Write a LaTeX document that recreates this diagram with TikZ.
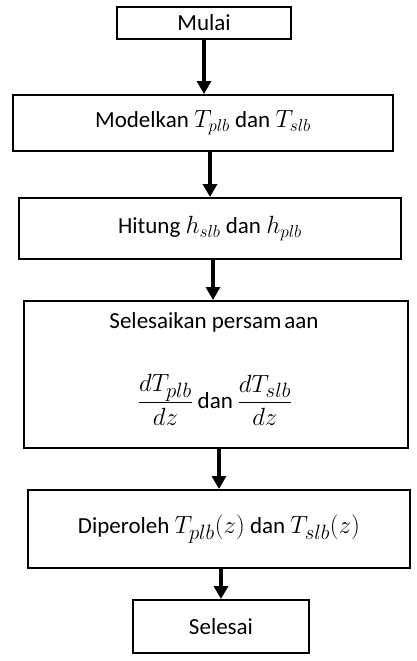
\documentclass[tikz,border=0pt]{standalone}
\usepackage{fontspec}
\setmainfont{Carlito}
\usetikzlibrary{arrows.meta}
\newcommand\bigmath[1]{{\fontsize{29}{32}\selectfont$#1$}}
\begin{document}
\begin{tikzpicture}[x=1pt,y=-1pt,
  box/.style={draw, line width=2pt, inner sep=0pt, font=\fontsize{23}{27}\selectfont},
  txt/.style={inner sep=0pt, font=\fontsize{23}{27}\selectfont},
  arr/.style={line width=3.6pt, -{Triangle[width=14pt,length=13pt]}}]
\useasboundingbox (0,0) rectangle (416,661);
\node[box, minimum width=174pt, minimum height=32pt] (b1) at (204,23) {Mulai};
\node[box, minimum width=380pt, minimum height=56pt] (b2) at (203,123) {Modelkan $T_{plb}$ dan $T_{slb}$};
\node[box, minimum width=382pt, minimum height=61pt] (b3) at (210,228.5) {Hitung {\fontsize{25}{28}\selectfont$h_{slb}$} dan {\fontsize{25}{28}\selectfont$h_{plb}$}};
\node[box, minimum width=384pt, minimum height=147pt] (b4) at (216,374.5) {};
\node[txt] (t4a) at (214,322) {Selesaikan persam\hspace{3pt}aan};
\node[txt] (t4b) at (215,400) {\fontsize{28}{32}\selectfont$\displaystyle\frac{dT_{plb}}{dz}$\,{\fontsize{23}{27}\selectfont dan}\,$\displaystyle\frac{dT_{slb}}{dz}$};
\node[box, minimum width=382pt, minimum height=78pt] (b5) at (219,529) {Diperoleh \bigmath{T_{plb}(z)} dan \bigmath{T_{slb}(z)}};
\node[box, minimum width=176pt, minimum height=53pt] (b6) at (221,626.5) {Selesai};
\draw[arr] (b1.south) -- (b1.south |- b2.north);
\draw[arr] (b3.north |- b2.south) -- (b3.north);
\draw[arr] ([xshift=3pt]b3.south) -- ([xshift=3pt]b3.south |- b4.north);
\draw[arr] (b5.north |- b4.south) -- (b5.north);
\draw[arr] (b6.north |- b5.south) -- (b6.north);
\end{tikzpicture}
\end{document}
